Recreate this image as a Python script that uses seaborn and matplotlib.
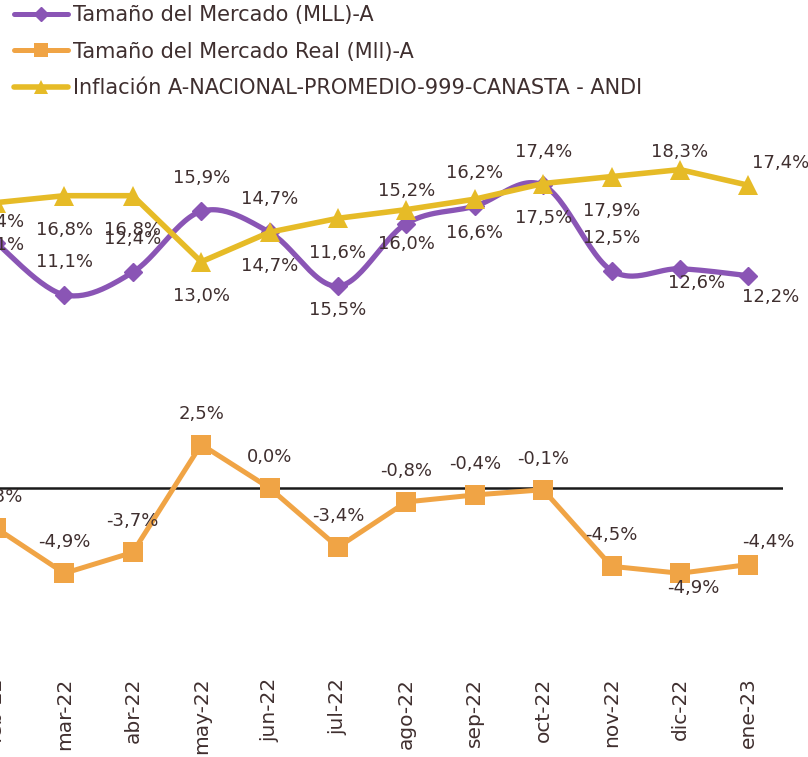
import numpy as np
import matplotlib
matplotlib.use("Agg")
import matplotlib.pyplot as plt
from matplotlib.lines import Line2D
import seaborn as sns

# datos
meses = ["feb-22", "mar-22", "abr-22", "may-22", "jun-22", "jul-22",
         "ago-22", "sep-22", "oct-22", "nov-22", "dic-22", "ene-23"]
mercado = [14.1, 11.1, 12.4, 15.9, 14.7, 11.6, 15.2, 16.2, 17.4, 12.5, 12.6, 12.2]
mercado_real = [-2.3, -4.9, -3.7, 2.5, 0.0, -3.4, -0.8, -0.4, -0.1, -4.5, -4.9, -4.4]
inflacion = [16.4, 16.8, 16.8, 13.0, 14.7, 15.5, 16.0, 16.6, 17.5, 17.9, 18.3, 17.4]

nombres = ["Tamaño del Mercado (MLL)-A",
           "Tamaño del Mercado Real (Mll)-A",
           "Inflación A-NACIONAL-PROMEDIO-999-CANASTA - ANDI"]

MORADO = "#8A55B5"
NARANJA = "#F0A445"
AMARILLO = "#E6BB27"
TEXTO = "#3F2F2F"

# desplazamiento de etiquetas en pixeles (x a la derecha, y hacia abajo)
off_mercado = {0: (0, 2), 10: (17, 14), 11: (22, 21)}
off_inflacion = {0: (0, 19), 5: (0, 92), 10: (0, -18), 11: (32, -22)}
off_real = {10: (13, 15), 11: (20, -23)}


def suavizar(y, n=30):
    # curva tipo excel (bezier con tangentes catmull-rom)
    x = np.arange(len(y), dtype=float)
    pts = np.column_stack([x, np.asarray(y, float)])
    P = np.vstack([pts[0], pts, pts[-1]])
    t = np.linspace(0, 1, n)[:, None]
    out = []
    for i in range(len(pts) - 1):
        p0, p1, p2, p3 = P[i], P[i + 1], P[i + 2], P[i + 3]
        c1 = p1 + (p2 - p0) / 6
        c2 = p2 - (p3 - p1) / 6
        seg = (1 - t) ** 3 * p1 + 3 * (1 - t) ** 2 * t * c1 + 3 * (1 - t) * t ** 2 * c2 + t ** 3 * p2
        out.append(seg if i == 0 else seg[1:])
    return np.vstack(out)


def fmt(v):
    return f"{v:.1f}%".replace(".", ",")


sns.set_style("white")
plt.rcParams["font.family"] = ["DejaVu Sans"]

fig = plt.figure(figsize=(8.08, 7.57), dpi=100)
ax = fig.add_axes([-0.0473, 0.114, 1.0158, 0.7585])

x = np.arange(len(meses))

ax.axhline(0, color="#1a1a1a", lw=1.8, zorder=1)

curva = suavizar(mercado)
sns.lineplot(x=curva[:, 0], y=curva[:, 1], sort=False, color=MORADO, lw=3.8, ax=ax, zorder=2)
ax.plot(x, mercado, ls="none", marker="D", ms=9.5, color=MORADO, zorder=3)

sns.lineplot(x=x, y=inflacion, color=AMARILLO, lw=4, marker="^", ms=15,
             markeredgewidth=0, ax=ax, zorder=4)
sns.lineplot(x=x, y=mercado_real, color=NARANJA, lw=3.6, marker="s", ms=14,
             markeredgewidth=0, ax=ax, zorder=4)


def etiquetar(valores, extra, dy_def):
    for i, v in enumerate(valores):
        dx, dy = extra.get(i, (0, dy_def))
        ax.annotate(fmt(v), (i, v), xytext=(dx, -dy), textcoords="offset pixels",
                    ha="center", va="center", fontsize=13, color=TEXTO, zorder=6)


etiquetar(mercado, off_mercado, -33)
etiquetar(inflacion, off_inflacion, 34)
etiquetar(mercado_real, off_real, -31)

ax.set_xlim(-0.5, len(meses) - 0.5)
ax.set_ylim(-10.5, 22.5)
ax.set_xticks(x)
ax.set_xticklabels(meses, rotation=90, fontsize=14.5, color=TEXTO)
ax.tick_params(axis="x", length=0, pad=5)
ax.set_yticks([])
ax.set_xlabel("")
ax.set_ylabel("")
for s in ax.spines.values():
    s.set_visible(False)

handles = [
    Line2D([], [], color=MORADO, lw=3.6, marker="D", ms=7),
    Line2D([], [], color=NARANJA, lw=3.6, marker="s", ms=10, markeredgewidth=0),
    Line2D([], [], color=AMARILLO, lw=4, marker="^", ms=10, markeredgewidth=0),
]
leg = fig.legend(handles, nombres, loc="upper left", bbox_to_anchor=(0.0173, 0.993),
                 frameon=False, fontsize=15, handlelength=2.6, handletextpad=0.25,
                 labelspacing=0.78, borderaxespad=0, borderpad=0)
for t in leg.get_texts():
    t.set_color(TEXTO)

fig.savefig("out.png", dpi=100)
